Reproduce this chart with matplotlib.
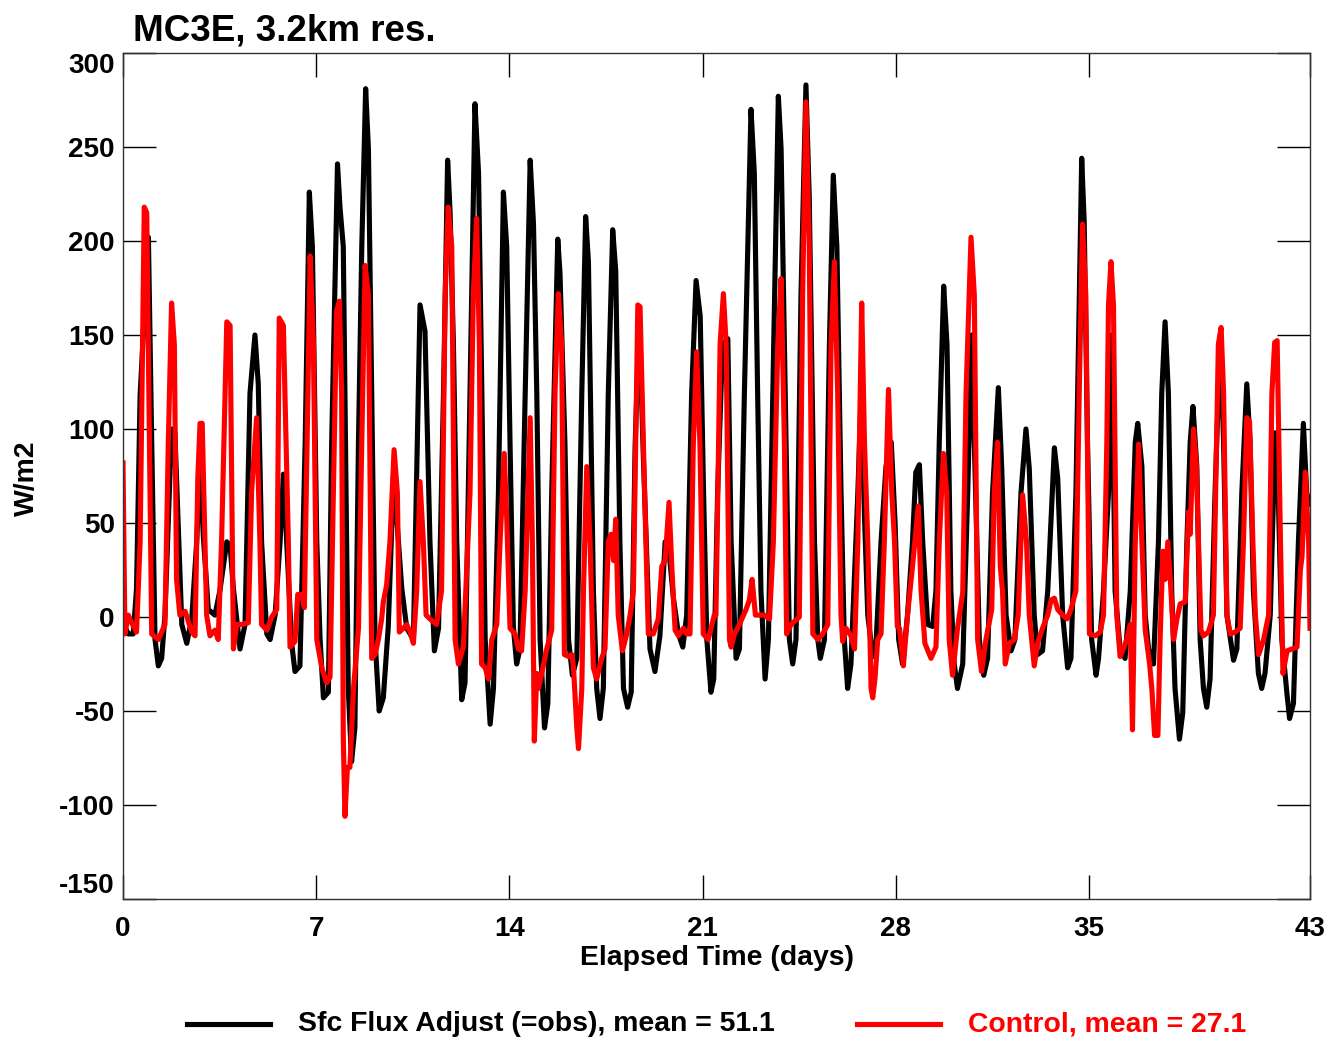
import numpy as np
import matplotlib
matplotlib.use('Agg')
import matplotlib.pyplot as plt
from matplotlib.lines import Line2D

plt.rcParams['font.family'] = ['Liberation Sans', 'DejaVu Sans']
plt.rcParams['font.weight'] = 'bold'
plt.rcParams['axes.unicode_minus'] = False

# Sfc Flux Adjust (=obs): (day, W/m2) vertices
obs_day = [0.00, 0.19, 0.37, 0.49, 0.62, 0.92, 1.04, 1.16, 1.28, 1.40, 1.52, 1.76, 1.88, 2.13, 2.31,
           2.49, 2.67, 2.79, 2.91, 3.09, 3.33, 3.51, 3.76, 3.88, 4.00, 4.24, 4.42, 4.60, 4.78, 4.90,
           5.02, 5.21, 5.33, 5.51, 5.69, 5.81, 5.93, 6.11, 6.23, 6.41, 6.60, 6.75, 6.86, 7.02, 7.14,
           7.26, 7.44, 7.56, 7.77, 7.86, 7.98, 8.10, 8.16, 8.28, 8.40, 8.53, 8.65, 8.79, 8.89, 9.01,
           9.13, 9.28, 9.43, 9.61, 9.80, 9.88, 10.10, 10.28, 10.52, 10.76, 10.94, 11.12, 11.28, 11.43,
           11.61, 11.76, 11.85, 11.97, 12.09, 12.27, 12.39, 12.57, 12.75, 12.88, 13.00, 13.12, 13.30,
           13.42, 13.60, 13.78, 13.90, 14.02, 14.14, 14.26, 14.38, 14.57, 14.75, 14.87, 14.99, 15.11,
           15.27, 15.39, 15.53, 15.75, 15.83, 16.01, 16.14, 16.28, 16.44, 16.62, 16.76, 16.86, 17.04,
           17.16, 17.28, 17.40, 17.58, 17.74, 17.85, 18.00, 18.13, 18.28, 18.41, 18.55, 18.70, 18.85,
           19.09, 19.27, 19.45, 19.64, 19.76, 19.94, 20.12, 20.28, 20.42, 20.60, 20.76, 20.91, 21.03,
           21.15, 21.30, 21.40, 21.54, 21.72, 21.91, 22.03, 22.21, 22.33, 22.51, 22.75, 22.87, 22.99,
           23.11, 23.26, 23.38, 23.54, 23.74, 23.84, 24.02, 24.14, 24.26, 24.38, 24.56, 24.74, 24.86,
           25.05, 25.17, 25.26, 25.41, 25.59, 25.73, 25.86, 26.01, 26.13, 26.25, 26.37, 26.62, 26.74,
           26.86, 26.98, 27.16, 27.28, 27.46, 27.64, 27.83, 27.97, 28.10, 28.24, 28.42, 28.60, 28.72,
           28.85, 28.97, 29.15, 29.33, 29.45, 29.57, 29.73, 29.85, 29.99, 30.11, 30.23, 30.42, 30.60,
           30.74, 30.84, 31.02, 31.18, 31.32, 31.50, 31.71, 31.83, 31.99, 32.17, 32.31, 32.53, 32.71,
           32.83, 33.01, 33.13, 33.31, 33.50, 33.74, 33.86, 34.04, 34.22, 34.34, 34.52, 34.73, 34.82,
           34.94, 35.09, 35.25, 35.34, 35.52, 35.70, 35.82, 35.94, 36.12, 36.30, 36.49, 36.67, 36.76,
           36.91, 37.03, 37.15, 37.33, 37.51, 37.63, 37.75, 37.87, 37.99, 38.11, 38.27, 38.39, 38.54,
           38.66, 38.76, 38.90, 39.02, 39.14, 39.26, 39.38, 39.56, 39.75, 39.87, 39.99, 40.23, 40.35,
           40.53, 40.71, 40.83, 40.95, 41.13, 41.25, 41.37, 41.56, 41.74, 41.86, 41.98, 42.16, 42.26,
           42.40, 42.58, 42.76, 42.88, 43.00]
obs_flux = [-3, -9, -9, 15, 118, 202, 93, -12, -26, -22, 1, 100, 98, -4, -14,
            -1, 40, 82, 43, 4, 1, 14, 40, 38, 15, -17, -4, 119, 150, 124,
            40, -9, -12, 1, 40, 76, 40, -14, -29, -26, 93, 226, 197, 40, -12,
            -43, -40, 93, 241, 218, 197, 40, -38, -77, -59, 93, 197, 281, 249, 119,
            -12, -50, -43, -5, 75, 60, 15, -6, -12, 166, 152, 40, -18, -6,
            119, 243, 215, 145, 40, -44, -35, 119, 273, 236, 119, -12, -57,
            -38, 66, 226, 197, 93, -5, -25, -17, 119, 243, 209, 119, -12,
            -59, -46, 66, 201, 183, 92, -12, -31, -22, 119, 213, 189, 14,
            -38, -54, -38, 119, 206, 184, 40, -38, -48, -40, 90, 160, 85,
            -17, -29, -10, 40, 38, 10, -9, -16, 1, 119, 179, 160, 67,
            -12, -40, -33, 66, 145, 148, 40, -22, -17, 119, 270, 236, 119,
            14, -33, -12, 119, 277, 249, 93, -12, -25, -12, 171, 283, 223,
            40, -12, -22, -12, 145, 235, 197, 67, -12, -38, -25, 66, 119,
            54, 1, -21, -14, 40, 80, 93, 50, -12, -25, 1, 40, 77,
            81, 40, -4, -5, 14, 93, 176, 145, 14, -25, -38, -25, 66,
            150, 93, -12, -31, -22, 66, 122, 80, 1, -18, -12, 66, 100,
            79, 1, -20, -18, 14, 90, 74, 1, -27, -22, 66, 244, 210,
            93, -12, -31, -22, 14, 66, 150, 14, -17, -22, 14, 93, 103,
            80, 1, -17, -25, 40, 119, 157, 119, 14, -38, -65, -51, 40,
            93, 112, 80, -12, -38, -48, -33, 66, 150, 93, 1, -23, -17,
            66, 124, 93, 14, -30, -38, -30, 1, 98, 60, -12, -40, -54,
            -46, 40, 103, 66, 60]

# Control run
ctl_day = [0.00, 0.07, 0.19, 0.31, 0.49, 0.62, 0.77, 0.86, 1.04, 1.28, 1.52, 1.64, 1.76, 1.86, 1.94,
           2.06, 2.25, 2.49, 2.61, 2.71, 2.79, 2.87, 3.03, 3.15, 3.33, 3.45, 3.57, 3.76, 3.88, 4.00,
           4.12, 4.30, 4.54, 4.66, 4.84, 4.96, 5.02, 5.21, 5.39, 5.57, 5.66, 5.81, 5.99, 6.05, 6.23,
           6.33, 6.47, 6.57, 6.78, 6.90, 7.02, 7.20, 7.38, 7.50, 7.62, 7.74, 7.84, 7.92, 7.98, 8.04,
           8.13, 8.22, 8.35, 8.53, 8.65, 8.77, 8.89, 9.01, 9.13, 9.25, 9.37, 9.43, 9.55, 9.67, 9.82,
           9.94, 10.01, 10.16, 10.28, 10.40, 10.52, 10.64, 10.76, 10.88, 10.98, 11.12, 11.36, 11.54,
           11.67, 11.78, 11.91, 12.03, 12.15, 12.33, 12.57, 12.69, 12.81, 12.91, 12.99, 13.12, 13.24,
           13.36, 13.54, 13.66, 13.81, 13.90, 14.02, 14.20, 14.32, 14.44, 14.57, 14.75, 14.83, 14.90,
           14.99, 15.05, 15.17, 15.35, 15.53, 15.65, 15.77, 15.89, 15.99, 16.14, 16.26, 16.32, 16.44,
           16.50, 16.62, 16.68, 16.80, 16.92, 17.04, 17.16, 17.34, 17.46, 17.58, 17.68, 17.77, 17.85,
           17.94, 18.09, 18.25, 18.37, 18.49, 18.65, 18.73, 18.85, 19.03, 19.21, 19.39, 19.52, 19.64,
           19.78, 19.88, 20.00, 20.12, 20.30, 20.42, 20.54, 20.66, 20.78, 20.90, 21.02, 21.20, 21.42,
           21.48, 21.63, 21.75, 21.85, 21.97, 22.03, 22.15, 22.33, 22.57, 22.69, 22.79, 22.91, 23.23,
           23.42, 23.56, 23.72, 23.84, 23.96, 24.04, 24.20, 24.50, 24.62, 24.74, 24.86, 24.99, 25.17,
           25.35, 25.53, 25.65, 25.77, 25.89, 26.01, 26.07, 26.19, 26.37, 26.50, 26.62, 26.76, 26.86,
           26.98, 27.10, 27.16, 27.24, 27.34, 27.46, 27.58, 27.73, 27.85, 27.95, 28.05, 28.13, 28.27,
           28.42, 28.60, 28.81, 28.91, 29.05, 29.27, 29.45, 29.57, 29.72, 29.84, 29.93, 30.05, 30.23,
           30.42, 30.54, 30.72, 30.84, 30.96, 31.10, 31.26, 31.47, 31.56, 31.68, 31.78, 31.86, 31.96,
           32.11, 32.29, 32.43, 32.59, 32.73, 32.83, 33.01, 33.13, 33.31, 33.50, 33.62, 33.74, 33.86,
           34.04, 34.20, 34.34, 34.52, 34.64, 34.76, 34.88, 35.01, 35.22, 35.40, 35.52, 35.64, 35.70,
           35.79, 35.88, 36.00, 36.12, 36.24, 36.36, 36.49, 36.57, 36.67, 36.79, 36.91, 37.03, 37.19,
           37.27, 37.37, 37.49, 37.57, 37.67, 37.75, 37.85, 37.94, 38.06, 38.18, 38.30, 38.48, 38.60,
           38.66, 38.78, 38.88, 38.96, 39.05, 39.14, 39.32, 39.50, 39.68, 39.78, 39.87, 39.99, 40.11,
           40.29, 40.47, 40.59, 40.71, 40.81, 40.93, 41.02, 41.14, 41.32, 41.50, 41.62, 41.72, 41.81,
           41.93, 42.02, 42.17, 42.35, 42.53, 42.65, 42.71, 42.83, 42.95, 43.00]
ctl_flux = [82, -9, 1, -3, -8, 40, 218, 215, -9, -12, -4, 92, 167, 145, 20,
            1, 3, -8, -10, 74, 103, 103, 1, -10, -7, -12, 40, 157, 155, -17,
            -4, -4, -3, 67, 106, 40, -4, -7, 0, 4, 159, 155, 40, -16, -13,
            12, 12, 5, 192, 145, -12, -27, -35, -32, 66, 163, 168, 119, -64, -106,
            -80, -80, -38, -6, 93, 187, 171, -22, -20, -12, -1, 8, 17, 40, 89,
            66, -8, -6, -4, -8, -14, 14, 72, 40, 1, -1, -4, 14,
            171, 218, 197, -12, -25, -16, 66, 171, 212, 145, -25, -27, -33,
            -12, -4, 40, 87, 53, -6, -9, -17, -18, 14, 106, 40, -66,
            -30, -38, -30, -17, -7, 119, 172, 145, -20, -21, -20, -27, -59,
            -70, -38, 14, 80, 40, -27, -33, -22, -17, 40, 44, 30, 52,
            1, -18, -9, 1, 14, 166, 165, 93, -9, -9, -1, 27, 30,
            61, 27, -7, -10, -6, -9, -9, 92, 141, 92, -9, -12, 1,
            1, 145, 172, 145, -12, -16, -9, -4, 4, 9, 20, 1, 1,
            -1, 40, 145, 180, 93, -9, -4, 0, 171, 274, 197, -9, -12,
            -9, -4, 145, 189, 119, 1, -13, -6, -10, -17, 40, 167, 93,
            40, -38, -43, -33, -12, -9, 40, 121, 66, 40, -5, -6, -26,
            1, 27, 59, 14, -14, -22, -16, 40, 87, 66, -12, -31, -6,
            13, 119, 202, 171, -12, -29, -12, 4, 66, 93, 27, 14, -25,
            -14, -12, 1, 65, 40, 1, -26, -14, -6, 1, 9, 10, 4,
            1, -1, 4, 14, 119, 209, 171, -9, -10, -8, 1, 93, 166,
            189, 166, 1, -21, -17, -12, -4, -60, 40, 92, 40, -7, -25,
            -38, -63, -63, -12, 35, 20, 40, 20, -12, -1, 7, 8, 56,
            44, 100, 82, 40, -7, -10, -8, 1, 145, 154, 119, 1, -9,
            -8, -6, 40, 106, 104, 40, 1, -20, -12, 1, 119, 146, 147,
            40, -30, -18, -17, -16, 25, 32, 77, 40, -6]

title = 'MC3E, 3.2km res.'
obs_label = 'Sfc Flux Adjust (=obs), mean = 51.1'
ctl_label = 'Control, mean = 27.1'
xticks = [0, 7, 14, 21, 28, 35, 43]
yticks = list(range(-150, 301, 50))

W, H = 1331, 1042
fig = plt.figure(figsize=(W / 100, H / 100), dpi=100)
ax = fig.add_axes([123 / W, 1 - 899 / H, (1310 - 123) / W, (899 - 53) / H])

ax.plot(obs_day, obs_flux, color='black', lw=3.7)
ax.plot(ctl_day, ctl_flux, color='#ff0000', lw=3.7)

ax.set_xlim(0, 43)
ax.set_ylim(-150, 300)
ax.set_xticks(xticks)
ax.set_yticks(yticks)
ax.tick_params(axis='x', direction='in', length=17, width=1, top=True, pad=12, labelsize=20)
ax.tick_params(axis='y', direction='in', length=24, width=1, right=True, pad=6, labelsize=20)
for lab in ax.get_xticklabels() + ax.get_yticklabels():
    lab.set_fontweight('bold')
ylabs = ax.get_yticklabels()
ylabs[0].set_verticalalignment('bottom')
ylabs[-1].set_verticalalignment('top')
for sp in ax.spines.values():
    sp.set_linewidth(1.0)
    sp.set_color('#333333')

fig.text(717 / W, 1 - 958 / H, 'Elapsed Time (days)', fontsize=20.4, fontweight='bold',
         ha='center', va='center')
fig.text(27 / W, 1 - 478 / H, 'W/m2', fontsize=20.4, fontweight='bold', rotation=90,
         ha='center', va='center')
fig.text(133 / W, 1 - 40 / H, title, fontsize=26.5, fontweight='bold', ha='left', va='baseline')

# legend drawn beneath the axes
ly = 1 - 1024 / H
fig.add_artist(Line2D([187 / W, 270 / W], [ly, ly], color='black', lw=3.7))
fig.text(298 / W, ly, obs_label, fontsize=20.4, fontweight='bold', va='center', ha='left')
fig.add_artist(Line2D([857 / W, 940 / W], [ly, ly], color='#ff0000', lw=3.7))
fig.text(968 / W, ly, ctl_label, fontsize=20.4, fontweight='bold', va='center', ha='left',
         color='#ff0000')

fig.savefig('out.png', dpi=100)
